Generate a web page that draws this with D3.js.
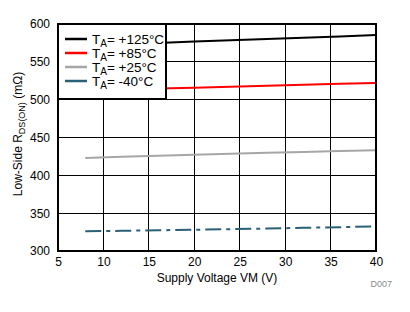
<!DOCTYPE html>
<html><head><meta charset="utf-8">
<script src="https://cdn.jsdelivr.net/npm/d3@7"></script>
<style>body{margin:0;background:#fff}svg{display:block;font-family:Arial,"Liberation Sans",sans-serif}</style>
</head><body><svg id="c" width="410" height="312"></svg>
<script>
const voltages = [8, 12, 16, 20, 24, 28, 32, 36, 40];
const t125 = [571.5, 573.3, 575, 576.8, 578.6, 580.3, 581.9, 583.6, 585.3];
const t85 = [512, 513.3, 514.6, 515.9, 517.2, 518.5, 519.7, 520.9, 522];
const t25 = [423, 424.4, 425.8, 427.1, 428.4, 429.7, 431, 432.2, 433];
const tm40 = [326, 326.7, 327.4, 328.1, 328.9, 329.7, 330.6, 331.5, 332.5];
const seriesNames = ["+125°C", "+85°C", "+25°C", "-40°C"];
const xTicks = [5, 10, 15, 20, 25, 30, 35, 40];
const yTicks = [300, 350, 400, 450, 500, 550, 600];

const series = [
  {name: seriesNames[0], vals: t125, color: "#000000", dash: null},
  {name: seriesNames[1], vals: t85, color: "#ff0000", dash: null},
  {name: seriesNames[2], vals: t25, color: "#a6a6a6", dash: null},
  {name: seriesNames[3], vals: tm40, color: "#2a6077", dash: "16,5,4,5"}
];

const L = 58, T = 24, R = 376, B = 251;
const svg = d3.select("#c");
const x = d3.scaleLinear().domain([5, 40]).range([L, R]);
const y = d3.scaleLinear().domain([300, 600]).range([B, T]);

// gridlines
const g = svg.append("g");
g.selectAll(".vg").data(xTicks.slice(1, -1)).join("line")
  .attr("x1", d => x(d)).attr("x2", d => x(d)).attr("y1", T).attr("y2", B)
  .attr("stroke", "#000").attr("stroke-width", 1).attr("shape-rendering", "crispEdges");
g.selectAll(".hg").data(yTicks.slice(1, -1)).join("line")
  .attr("x1", L).attr("x2", R).attr("y1", d => y(d)).attr("y2", d => y(d))
  .attr("stroke", "#000").attr("stroke-width", 1).attr("shape-rendering", "crispEdges");

// axes labels via d3 axis
const xa = svg.append("g").attr("transform", `translate(0,${B + 3})`)
  .call(d3.axisBottom(x).tickValues(xTicks).tickSize(0).tickFormat(d3.format("d")));
xa.select(".domain").remove();
xa.selectAll("text").attr("font-size", 12).attr("font-family", "Arial, Liberation Sans, sans-serif").attr("fill", "#000");
const ya = svg.append("g").attr("transform", `translate(${L - 5},0)`)
  .call(d3.axisLeft(y).tickValues(yTicks).tickSize(0).tickFormat(d3.format("d")));
ya.select(".domain").remove();
ya.selectAll("text").attr("font-size", 12).attr("font-family", "Arial, Liberation Sans, sans-serif").attr("fill", "#000");

// data lines
const line = d3.line().x((d, i) => x(voltages[i])).y(d => y(d));
svg.selectAll(".ln").data(series).join("path")
  .attr("d", d => line(d.vals)).attr("fill", "none")
  .attr("stroke", d => d.color).attr("stroke-width", 2)
  .attr("stroke-dasharray", d => d.dash);

// legend
const lx0 = L, ly0 = T, lx1 = 166, ly1 = 99;
svg.append("rect").attr("x", lx0).attr("y", ly0).attr("width", lx1 - lx0).attr("height", ly1 - ly0)
  .attr("fill", "#fff").attr("stroke", "#000").attr("stroke-width", 2);
const lg = svg.selectAll(".lg").data(series).join("g")
  .attr("transform", (d, i) => `translate(0,${39 + i * 14})`);
lg.append("line").attr("x1", 65).attr("x2", 87).attr("y1", 0).attr("y2", 0)
  .attr("stroke", d => d.color).attr("stroke-width", 2.5);
const lt = lg.append("text").attr("x", 92).attr("y", 5).attr("font-size", 13.5).attr("fill", "#000");
lt.append("tspan").text("T");
lt.append("tspan").attr("font-size", 10).attr("dy", 3).text("A");
lt.append("tspan").attr("dy", -3).text(d => "= " + d.name);

// plot border
svg.append("rect").attr("x", L).attr("y", T).attr("width", R - L).attr("height", B - T)
  .attr("fill", "none").attr("stroke", "#000").attr("stroke-width", 2);

// axis titles
svg.append("text").attr("x", (L + R) / 2).attr("y", 282).attr("text-anchor", "middle")
  .attr("font-size", 12).text("Supply Voltage VM (V)");
const yt = svg.append("text").attr("transform", "translate(22,134) rotate(-90)")
  .attr("text-anchor", "middle").attr("font-size", 12);
yt.append("tspan").text("Low-Side R");
yt.append("tspan").attr("font-size", 9).attr("dy", 3).text("DS(ON)");
yt.append("tspan").attr("dy", -3).text(" (mΩ)");

svg.append("text").attr("x", 392).attr("y", 287).attr("text-anchor", "end")
  .attr("font-size", 9).attr("fill", "#8c8c8c").text("D007");
</script></body></html>
